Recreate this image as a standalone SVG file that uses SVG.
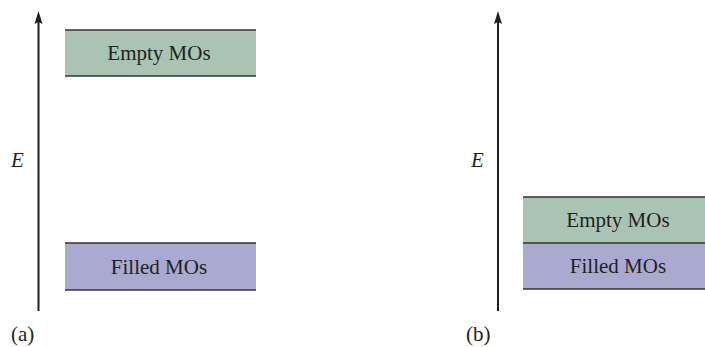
<svg xmlns="http://www.w3.org/2000/svg" width="705" height="347" viewBox="0 0 705 347">
<defs>
<style>
.lbl{text-anchor:middle}
.e{font-style:italic}
.empty{fill:#a9c4b3}
.filled{fill:#aaaad0}
.edge{stroke:#333;stroke-width:1.5;fill:none}
.axis{stroke:#231f20;stroke-width:2;fill:none}
</style>
</defs>
<g id="connectors">
<line class="axis" x1="38.5" y1="311" x2="38.5" y2="22"/>
<path d="M38.5,11 L42.5,24 L38.5,22 L34.5,24 Z" fill="#231f20"/>
<line class="axis" x1="498" y1="311" x2="498" y2="22"/>
<path d="M498,11 L502,24 L498,22 L494,24 Z" fill="#231f20"/>
</g>
<g id="a-empty">
<rect class="empty" x="65" y="30" width="191" height="46"/>
<line class="edge" x1="65" y1="30" x2="256" y2="30"/>
<line class="edge" x1="65" y1="76" x2="256" y2="76"/>
<text class="lbl" x="159" y="60" font-family="Liberation Serif" font-size="21" fill="#231f20">Empty MOs</text>
</g>
<g id="a-filled">
<rect class="filled" x="65" y="243" width="191" height="47"/>
<line class="edge" x1="65" y1="243" x2="256" y2="243"/>
<line class="edge" x1="65" y1="290" x2="256" y2="290"/>
<text class="lbl" x="159" y="274" font-family="Liberation Serif" font-size="21" fill="#231f20">Filled MOs</text>
</g>
<g id="b-empty">
<rect class="empty" x="523" y="197" width="182" height="46"/>
<line class="edge" x1="523" y1="197" x2="705" y2="197"/>
<text class="lbl" x="618" y="227" font-family="Liberation Serif" font-size="21" fill="#231f20">Empty MOs</text>
</g>
<g id="b-filled">
<rect class="filled" x="523" y="243" width="182" height="46"/>
<line class="edge" x1="523" y1="243" x2="705" y2="243"/>
<line class="edge" x1="523" y1="289" x2="705" y2="289"/>
<text class="lbl" x="618" y="273" font-family="Liberation Serif" font-size="21" fill="#231f20">Filled MOs</text>
</g>
<g id="labels">
<text class="e" x="11" y="167" font-family="Liberation Serif" font-size="21" fill="#231f20">E</text>
<text class="e" x="471" y="167" font-family="Liberation Serif" font-size="21" fill="#231f20">E</text>
<text x="11" y="341" font-family="Liberation Serif" font-size="21" fill="#231f20">(a)</text>
<text x="466" y="341" font-family="Liberation Serif" font-size="21" fill="#231f20">(b)</text>
</g>
</svg>
